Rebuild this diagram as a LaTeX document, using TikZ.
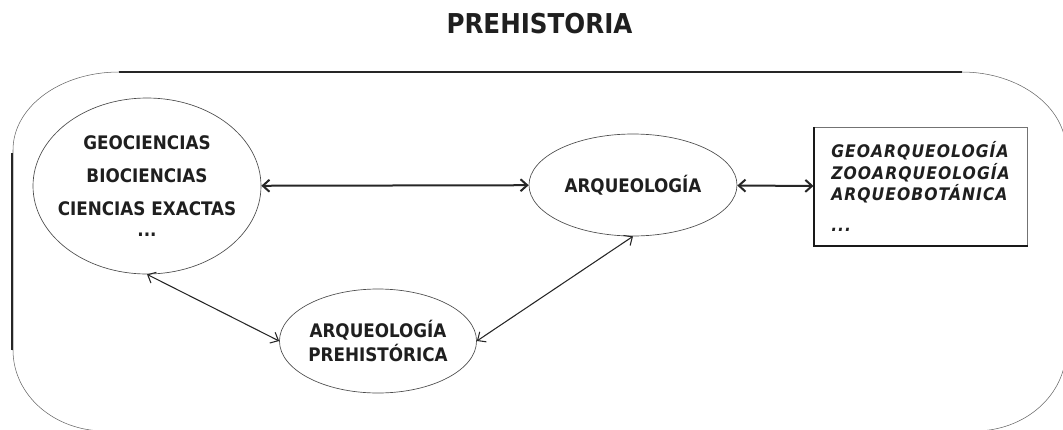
\documentclass[tikz,border=0pt]{standalone}
\usepackage{fontspec}
\setmainfont{DejaVu Sans Condensed}
\newfontfamily\spacedfont[LetterSpace=6]{DejaVu Sans Condensed}
\usetikzlibrary{shapes.geometric,arrows.meta}

\begin{document}
\begin{tikzpicture}[x=0.75pt,y=-0.75pt]
\tikzstyle{oval}=[ellipse, draw=black!70, line width=0.5pt, inner sep=0pt, align=center, text=black!88, font=\fontsize{14}{18}\selectfont\bfseries]
\tikzstyle{link}=[{Straight Barb[length=5pt,width=9pt]}-{Straight Barb[length=5pt,width=9pt]}, line width=0.8pt, black!85]
\useasboundingbox (0,0) rectangle (1063,429);
\clip (0,0) rectangle (1063,429);

% outer frame
\draw[black!60, line width=0.4pt] (119,72) .. controls (60,72) and (13,107) .. (13,150) -- (13,350)
  .. controls (13,395) and (54,431) .. (105,431) -- (975,431)
  .. controls (1025,431) and (1066,395) .. (1066,350) -- (1066,150)
  .. controls (1066,107) and (1019,72) .. (962,72);
\draw[black!85, line width=1.2pt] (119,72) -- (962,72);
\draw[black!85, line width=1.6pt] (12,153) -- (12,350);

\node[font=\fontsize{20.5}{24}\selectfont\bfseries, text=black!88, anchor=base] (title) at (539.5,33) {PREHISTORIA};

\node[oval, inner xsep=-10pt, minimum width=171pt, minimum height=132pt] (GEO) at (147,186)
  {GEOCIENCIAS\\[6.75pt]BIOCIENCIAS\\[6.75pt]CIENCIAS EXACTAS\\[-2pt]...};
\node[oval, minimum width=156pt, minimum height=76.5pt] (ARQ) at (633,185) {ARQUEOLOGÍA};
\node[oval, minimum width=147pt, minimum height=78pt] (PREH) at (378,341) {ARQUEOLOGÍA\\PREHISTÓRICA};
\node[draw=black!55, line width=0.5pt, minimum width=160pt, minimum height=89pt, align=left, text=black!88,
  font=\spacedfont\fontsize{13}{16}\selectfont\bfseries\itshape] (BOX) at (920.5,186.5)
  {GEOARQUEOLOGÍA\\ZOOARQUEOLOGÍA\\ARQUEOBOTÁNICA\\[7pt]...};
\draw[black!90, line width=1.5pt] (BOX.north west) -- (BOX.south west) -- (BOX.south east);

\path[link]
(ARQ) edge[line width=1.5pt] (GEO)
      edge[line width=1.5pt] (BOX)
(GEO.south) edge (PREH.west)
(PREH.east) edge (ARQ.south);

\end{tikzpicture}
\end{document}
